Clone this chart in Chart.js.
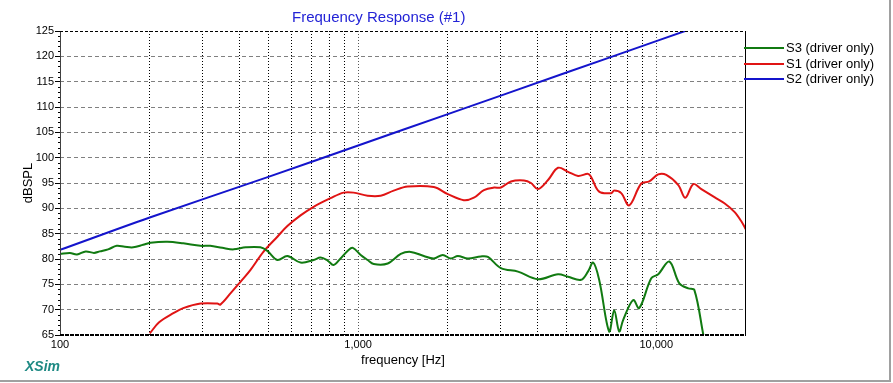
<!DOCTYPE html>
<html>
<head>
<meta charset="utf-8">
<script src="https://cdn.jsdelivr.net/npm/chart.js@4.4.1/dist/chart.umd.min.js"></script>
<style>
  html, body { margin: 0; padding: 0; background: #fff; }
  #wrap { position: relative; width: 893px; height: 383px; font-family: "Liberation Sans", Arial, sans-serif; }
  canvas { position: absolute; left: 0; top: 0; }
  .txt { position: absolute; white-space: nowrap; }
  #title { left: 292px; top: 8px; font-size: 15px; color: #2323d6; }
  #xtitle { left: 403px; top: 352px; font-size: 13px; color: #000; transform: translateX(-50%); }
  #ytitle { left: 27px; top: 183px; font-size: 13px; color: #000; transform: translate(-50%, -50%) rotate(-90deg); }
  #xsim { left: 25px; top: 358px; font-size: 14px; font-weight: bold; font-style: italic; color: #1f8a84; }
  .leg { position: absolute; left: 744px; height: 16px; font-size: 13px; color: #000; }
  .leg span.ln { position: absolute; left: 0; top: 7px; width: 40px; height: 2px; }
  .leg span.lb { position: absolute; left: 42px; top: 0; white-space: nowrap; }
  #frameR { position: absolute; left: 889px; top: 0; width: 2px; height: 382px; background: #a0a0a0; }
  #frameB { position: absolute; left: 0; top: 380px; width: 891px; height: 2px; background: #a0a0a0; }
</style>
</head>
<body>
<div id="wrap">
  <canvas id="c" width="893" height="383"></canvas>
  <div class="txt" id="title">Frequency Response (#1)</div>
  <div class="txt" id="xtitle">frequency [Hz]</div>
  <div class="txt" id="ytitle">dBSPL</div>
  <div class="txt" id="xsim">XSim</div>
  <div id="legend"></div>
  <div id="frameR"></div>
  <div id="frameB"></div>
</div>
<script>
// ---- data ----
const seriesNames = ["S3 (driver only)", "S1 (driver only)", "S2 (driver only)"];
const seriesColors = ["#117a11", "#e01414", "#1414cc"];

const s3Freq = [100,108,114,122,130,136,145,155,165,176,190,201,229,259,296,319,350,382,420,470,496,536,579,641,709,748,790,827,870,929,960,1020,1076,1128,1257,1390,1502,1661,1794,1923,2046,2160,2334,2581,2725,3013,3437,4012,4684,5061,5597,5900,6142,6434,6950,7225,7510,7747,8369,8768,9621,10155,11060,11950,12810,13418,14390];
const s3Db   = [81.0,81.2,80.9,81.5,81.2,81.5,81.9,82.6,82.4,82.3,82.8,83.2,83.4,83.1,82.6,82.6,82.2,81.9,82.3,82.3,81.6,79.8,80.6,79.3,79.8,80.3,79.7,78.8,80.0,81.8,82.2,80.8,79.8,79.0,79.1,81.0,81.4,80.6,80.1,80.8,80.1,80.6,80.1,80.5,80.4,78.2,77.5,76.0,77.0,76.5,75.9,77.5,79.3,75.9,65.7,69.9,65.7,68.0,71.9,70.3,76.2,77.0,79.5,75.2,74.2,73.9,65.0];

const s1Freq = [200,215,240,259,296,337,345,373,403,435,481,536,579,641,709,808,894,966,1076,1190,1316,1467,1794,2000,2262,2445,2642,2855,3013,3255,3601,3800,4012,4335,4684,5061,5468,5909,6047,6434,7058,7225,7628,8113,8905,9474,10155,10805,11857,12515,13315,14168,15670,16930,18290,19310,20000];
const s1Db   = [65.3,67.5,69.3,70.3,71.2,71.2,71.0,73.2,75.5,77.8,81.4,84.4,86.5,88.6,90.3,92.0,93.1,93.1,92.5,92.5,93.5,94.3,94.2,92.8,91.6,92.1,93.6,94.1,94.1,95.3,95.5,95.0,93.8,95.6,98.0,97.2,96.4,96.8,96.2,93.3,93.0,93.5,93.0,90.6,94.9,95.3,96.7,96.6,94.6,92.1,94.8,93.8,92.2,91.0,89.3,87.4,85.8];

const s2Freq = [100,200,500,1000,2000,5000,10000,20000];
const s2Db   = [81.8,88.2,96.2,102.4,108.6,116.8,123.0,129.2];

const xGridValues = [100,200,300,400,500,600,700,800,900,1000,2000,3000,4000,5000,6000,7000,8000,9000,10000,20000];
const xLabelValues = [100,1000,10000];
const yMin = 65, yMax = 125, yStep = 5;

// ---- chart ----
function pts(f, d) { return f.map((v, i) => ({ x: v, y: d[i] })); }
const allData = [pts(s3Freq, s3Db), pts(s1Freq, s1Db), pts(s2Freq, s2Db)];

const legend = document.getElementById('legend');
seriesNames.forEach((n, i) => {
  const d = document.createElement('div');
  d.className = 'leg';
  d.style.top = (40 + i * 15.5) + 'px';
  d.innerHTML = '<span class="ln" style="background:' + seriesColors[i] + '"></span><span class="lb">' + n + '</span>';
  legend.appendChild(d);
});

const framePlugin = {
  id: 'frame',
  afterDatasetsDraw(chart) {
    const { ctx, chartArea: a, scales } = chart;
    const ys = scales.y;
    ctx.save();
    // minor ticks on y axis
    ctx.strokeStyle = '#000';
    ctx.lineWidth = 1;
    for (let v = yMin; v <= yMax; v++) {
      if (v % yStep === 0) continue;
      const py = Math.round(ys.getPixelForValue(v)) + 0.5;
      ctx.beginPath(); ctx.moveTo(a.left - 2, py); ctx.lineTo(a.left, py); ctx.stroke();
    }
    // left border
    ctx.strokeStyle = '#404040';
    ctx.beginPath(); ctx.moveTo(a.left + 0.5, a.top); ctx.lineTo(a.left + 0.5, a.bottom); ctx.stroke();
    // right border
    ctx.strokeStyle = '#000';
    ctx.beginPath(); ctx.moveTo(a.right - 0.5, a.top); ctx.lineTo(a.right - 0.5, a.bottom); ctx.stroke();
    // top border dashed
    ctx.setLineDash([3, 2]);
    const ty = Math.round(ys.getPixelForValue(yMax)) + 0.5;
    ctx.beginPath(); ctx.moveTo(a.left, ty); ctx.lineTo(a.right, ty); ctx.stroke();
    // bottom border thick dashed
    ctx.lineWidth = 2;
    ctx.setLineDash([4, 1]);
    const by = Math.round(ys.getPixelForValue(yMin));
    ctx.beginPath(); ctx.moveTo(a.left, by); ctx.lineTo(a.right, by); ctx.stroke();
    ctx.restore();
  }
};

new Chart(document.getElementById('c'), {
  type: 'line',
  data: {
    datasets: allData.map((d, i) => ({
      label: seriesNames[i],
      data: d,
      borderColor: seriesColors[i],
      backgroundColor: seriesColors[i],
      borderWidth: 2,
      pointRadius: 0,
      tension: 0.35,
      fill: false
    }))
  },
  options: {
    responsive: false,
    animation: false,
    devicePixelRatio: 1,
    layout: { padding: { left: 0, top: 31, right: 147, bottom: 0 } },
    plugins: { legend: { display: false }, title: { display: false }, tooltip: { enabled: false } },
    scales: {
      x: {
        type: 'logarithmic',
        min: 100, max: 20000,
        afterBuildTicks: s => { s.ticks = xGridValues.map(v => ({ value: v })); },
        afterFit: s => { s.height = 48; },
        ticks: {
          autoSkip: false, maxRotation: 0, padding: 3,
          color: '#000',
          font: { family: '"Liberation Sans", Arial, sans-serif', size: 11 },
          callback: v => xLabelValues.includes(v) ? v.toLocaleString('en-US') : ''
        },
        grid: {
          drawTicks: false,
          color: c => (c.tick && (c.tick.value === 100 || c.tick.value === 20000)) ? 'rgba(0,0,0,0)' : (xLabelValues.includes(c.tick && c.tick.value) ? '#555' : '#000'),
          lineWidth: 1
        },
        border: { display: false, dash: [1, 2] }
      },
      y: {
        min: yMin, max: yMax,
        afterBuildTicks: s => { const t = []; for (let v = yMin; v <= yMax; v += yStep) t.push({ value: v }); s.ticks = t; },
        afterFit: s => { s.width = 60; },
        ticks: {
          padding: 1, color: '#000',
          font: { family: '"Liberation Sans", Arial, sans-serif', size: 11 }
        },
        grid: {
          drawTicks: true, tickLength: 5, tickColor: '#000', tickBorderDash: [],
          color: c => (c.tick && (c.tick.value === yMin || c.tick.value === yMax)) ? 'rgba(0,0,0,0)' : '#808080',
          lineWidth: 1
        },
        border: { display: false, dash: [4, 3] }
      }
    }
  },
  plugins: [framePlugin]
});
</script>
</body>
</html>
